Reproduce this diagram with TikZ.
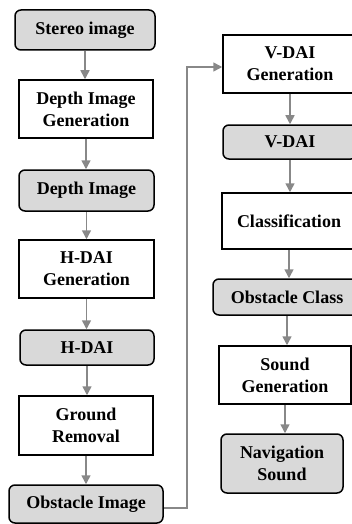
\documentclass[tikz,border=0pt]{standalone}
\usepackage{fontspec}
\setmainfont{Liberation Serif}
\usetikzlibrary{arrows.meta,positioning}
\definecolor{boxgray}{HTML}{D9D9D9}
\definecolor{linegray}{HTML}{888888}

\begin{document}
\begin{tikzpicture}[x=1pt,y=-1pt,
  proc/.style={draw=black,line width=1.5pt,fill=white,align=center,inner sep=0pt,
    font=\bfseries\fontsize{18}{22}\selectfont},
  data/.style={proc,fill=boxgray,rounded corners=6pt},
  flow/.style={draw=linegray,line width=1.5pt,-{Triangle[length=9pt,width=9pt]}}]
\useasboundingbox (0,0) rectangle (352,524);
\clip (0,0) rectangle (352,524);
% left column
\node[data,minimum width=140pt,minimum height=40pt] (stereo) at (85,30) {Stereo image};
\node[proc,minimum width=134pt,minimum height=58pt] (dgen) at (86,109) {Depth Image\\Generation};
\node[data,minimum width=135pt,minimum height=41pt] (depth) at (86.5,190.5) {Depth Image};
\node[proc,minimum width=135pt,minimum height=58pt] (hgen) at (86.5,269) {H-DAI\\Generation};
\node[data,minimum width=134pt,minimum height=35pt] (hdai) at (87,347.5) {H-DAI};
\node[proc,minimum width=134pt,minimum height=59pt] (ground) at (86,425.5) {Ground\\Removal};
\node[data,minimum width=154pt,minimum height=38pt] (obst) at (86,504) {Obstacle Image};
% right column
\node[proc,minimum width=134pt,minimum height=58pt] (vgen) at (290,64) {V-DAI\\Generation};
\node[data,minimum width=134pt,minimum height=34pt] (vdai) at (290,142) {V-DAI};
\node[proc,minimum width=134pt,minimum height=56pt] (classif) at (289,221) {Classification};
\node[data,minimum width=148pt,minimum height=36pt] (oclass) at (287,297) {Obstacle Class};
\node[proc,minimum width=132pt,minimum height=58pt] (sgen) at (285,375) {Sound\\Generation};
\node[data,minimum width=122pt,minimum height=59pt] (nsound) at (282,463.5) {Navigation\\Sound};
% arrows
\foreach \a/\b in {stereo/dgen,dgen/depth,depth/hgen,hgen/hdai,hdai/ground,ground/obst,
    vgen/vdai,vdai/classif,classif/oclass,oclass/sgen,sgen/nsound}
  \draw[flow] (\a.south) -- (\a.south |- \b.north);
\draw[flow] ([yshift=-4pt]obst.east) -- ++(23,0) |- ([yshift=-3pt]vgen.west);
\end{tikzpicture}
\end{document}
